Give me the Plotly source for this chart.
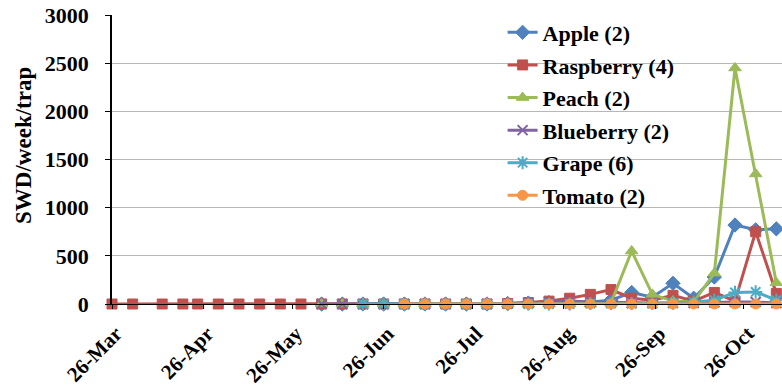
import plotly.graph_objects as go

# Weekly trap-check dates for the season
sample_dates = [
    "2012-03-26", "2012-04-02", "2012-04-12", "2012-04-19", "2012-04-24",
    "2012-05-01", "2012-05-08", "2012-05-15", "2012-05-22", "2012-05-29",
    "2012-06-05", "2012-06-12", "2012-06-19", "2012-06-26", "2012-07-03",
    "2012-07-10", "2012-07-17", "2012-07-24", "2012-07-31", "2012-08-07",
    "2012-08-14", "2012-08-21", "2012-08-28", "2012-09-04", "2012-09-11",
    "2012-09-18", "2012-09-25", "2012-10-02", "2012-10-09", "2012-10-16",
    "2012-10-23", "2012-10-30", "2012-11-06",
]

# SWD per week per trap, by crop (None = traps not yet deployed)
apple = [None] * 10 + [0, 0, 0, 0, 0, 0, 0, 0, 0, 5, 10, 15, 15, 20, 40,
                       120, 70, 215, 60, 280, 820, 770, 780]
raspberry = [0] * 19 + [5, 15, 30, 60, 100, 150, 60, 40, 90, 30, 120,
                        30, 750, 110]
peach = [None] * 10 + [0, 0, 0, 0, 0, 0, 0, 0, 0, 0, 0, 0, 0, 0, 10,
                       550, 100, 30, 20, 320, 2450, 1350, 220]
blueberry = [None] * 10 + [0, 0, 0, 0, 0, 0, 0, 0, 0, 5, 10, 20, 30, 20, 15,
                           10, 10, 10, 10, 15, 20, 20, 10]
grape = [None] * 12 + [0, 0, 0, 0, 0, 0, 0, 0, 0, 0, 0, 5, 5, 5,
                       5, 10, 20, 40, 120, 125, 40]
tomato = [None] * 14 + [0, 0, 0, 0, 0, 0, 0, 0, 0, 0, 0, 0, 0, 0,
                        0, 0, 0, 0, 0]

series_names = ["Apple (2)", "Raspberry (4)", "Peach (2)",
                "Blueberry (2)", "Grape (6)", "Tomato (2)"]
series_values = [apple, raspberry, peach, blueberry, grape, tomato]
series_colors = ["#4F81BD", "#C0504D", "#9BBB59", "#8064A2", "#4BACC6", "#F79646"]
series_symbols = ["diamond", "square", "triangle-up", "x-thin", "asterisk", "circle"]
series_sizes = [11, 10, 11, 10, 11, 10]

tick_dates = ["2012-03-26", "2012-04-26", "2012-05-26", "2012-06-26",
              "2012-07-26", "2012-08-26", "2012-09-26", "2012-10-26"]
tick_labels = ["26-Mar", "26-Apr", "26-May", "26-Jun",
               "26-Jul", "26-Aug", "26-Sep", "26-Oct"]
y_ticks = [0, 500, 1000, 1500, 2000, 2500, 3000]
y_title = "SWD/week/trap"


def bold(s):
    return f"<b>{s}</b>"


FONT = "Times New Roman, serif"


def txt(size):
    return dict(family=FONT, size=size, color="black")


fig = go.Figure()
for i, (name, vals, col, sym, sz) in enumerate(
        zip(series_names, series_values, series_colors, series_symbols, series_sizes)):
    thin = sym in ("x-thin", "asterisk")
    fig.add_trace(go.Scatter(
        x=sample_dates, y=vals, name=bold(name), mode="lines+markers",
        legendgroup=f"g{i}", cliponaxis=False,
        line=dict(color=col, width=3),
        marker=dict(symbol=sym, size=sz, color=col,
                    line=dict(color=col, width=2 if thin else 1)),
    ))

# vertical axis title, placed slightly above the plot-area midpoint
fig.add_annotation(
    text=bold(y_title), textangle=-90, showarrow=False,
    xref="paper", yref="paper", x=-0.133, y=0.55,
    xanchor="center", yanchor="middle", font=txt(23),
)

fig.update_layout(
    width=782, height=389,
    margin=dict(l=112, r=0, t=15, b=85),
    plot_bgcolor="white", paper_bgcolor="white",
    font=txt(21),
    legend=dict(
        x=0.583, y=1.012, xanchor="left", yanchor="top",
        bgcolor="rgba(0,0,0,0)", itemwidth=30,
        tracegroupgap=1, maxheight=300,
        font=txt(22),
    ),
    xaxis=dict(
        type="date",
        range=["2012-03-26", "2012-11-07 22:00"],
        tickvals=tick_dates, ticktext=[bold(t) for t in tick_labels],
        tickangle=-45,
        showgrid=False, zeroline=False,
        showline=True, linecolor="black", linewidth=1,
        ticks="outside", ticklen=4, tickcolor="black",
        ticklabelstandoff=4, ticklabelshift=4,
        tickfont=txt(21),
    ),
    yaxis=dict(
        range=[0, 3000], tickvals=y_ticks,
        ticktext=[bold(v) for v in y_ticks],
        showgrid=True, gridcolor="#B8B8B8", gridwidth=1,
        zeroline=False,
        showline=True, linecolor="black", linewidth=1.5,
        ticks="outside", ticklen=5, tickcolor="black",
        ticklabelstandoff=12,
        tickfont=txt(22),
    ),
)

fig.write_html("out.html")
